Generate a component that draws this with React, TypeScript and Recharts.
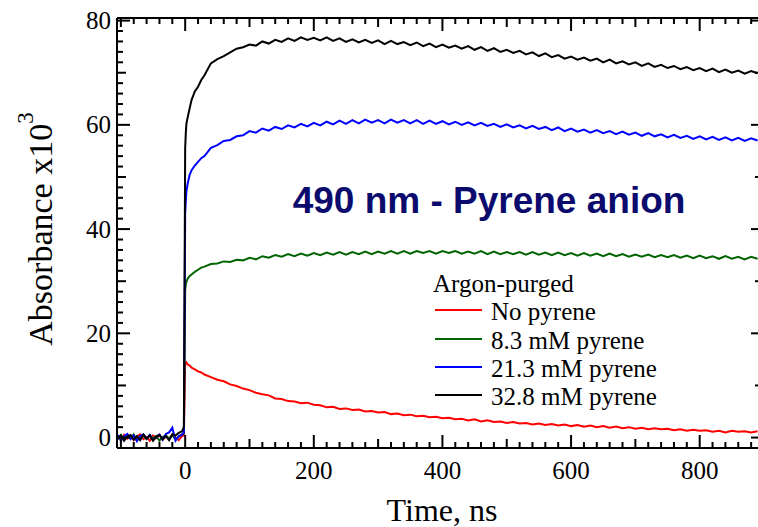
import React from 'react';
import { LineChart, Line, XAxis, YAxis, Legend } from 'recharts';

const TIME = [
  -105, -100, -95, -90, -85, -80, -75, -70, -65, -60, -55, -50, -45, -40, -35, -30, -25, -20, -15, -10, -5,
  -2, 0, 1, 2, 4, 7, 10, 15, 20, 25, 30, 40, 50, 60, 70, 80, 90,
  100, 110, 120, 130, 140, 150, 160, 170, 180, 190,
  200, 210, 220, 230, 240, 250, 260, 270, 280, 290,
  300, 310, 320, 330, 340, 350, 360, 370, 380, 390,
  400, 410, 420, 430, 440, 450, 460, 470, 480, 490,
  500, 510, 520, 530, 540, 550, 560, 570, 580, 590,
  600, 610, 620, 630, 640, 650, 660, 670, 680, 690,
  700, 710, 720, 730, 740, 750, 760, 770, 780, 790,
  800, 810, 820, 830, 840, 850, 860, 870, 880, 890,
];

const NO_PYRENE = [
  0.3, -0.4, 0.5, -0.2, 0.4, -0.5, 0.2, 0.6, -0.3, 0.1, -0.6, 0.4, -0.1, 0.5, -0.4, 0.2, -0.3, 0.6, 0.0, -0.5, 0.3,
  0.4, 14.6, 14.2, 14.4, 14.0, 13.8, 13.4, 13.1, 12.7, 12.5, 12.1, 11.6, 11.1, 10.8, 10.2, 9.9, 9.4,
  9.1, 8.6, 8.3, 8.1, 7.5, 7.4, 7.0, 6.9, 6.6, 6.7,
  6.3, 6.2, 5.8, 5.9, 5.5, 5.6, 5.3, 5.4, 5.0, 5.1,
  4.8, 4.9, 4.5, 4.6, 4.3, 4.4, 4.1, 4.2, 3.9, 4.0,
  3.7, 3.8, 3.5, 3.6, 3.3, 3.5, 3.1, 3.3, 3.0, 3.1,
  2.8, 3.0, 2.7, 2.8, 2.5, 2.7, 2.4, 2.6, 2.3, 2.5,
  2.2, 2.4, 2.1, 2.3, 2.0, 2.2, 1.9, 2.1, 1.8, 2.0,
  1.7, 1.9, 1.6, 1.8, 1.6, 1.7, 1.4, 1.6, 1.3, 1.5,
  1.3, 1.4, 1.1, 1.3, 1.0, 1.3, 1.1, 1.2, 1.0, 1.2,
];

const PYRENE_8_3 = [
  -0.2, 0.5, -0.4, 0.3, -0.1, 0.6, -0.5, 0.2, 0.4, -0.3, 0.5, -0.2, 0.3, -0.6, 0.1, 0.4, -0.2, 0.5, -0.4, 0.2, 0.6,
  0.8, 28.3, 29.4, 29.9, 30.5, 31.0, 31.3, 31.8, 32.2, 32.6, 32.8, 33.3, 33.4, 33.8, 33.7, 34.1, 34.0,
  34.5, 34.2, 34.8, 34.5, 35.0, 34.7, 35.2, 34.8, 35.3, 34.9,
  35.4, 35.0, 35.5, 35.1, 35.6, 35.1, 35.6, 35.2, 35.7, 35.2,
  35.7, 35.3, 35.8, 35.3, 35.8, 35.3, 35.8, 35.4, 35.8, 35.3,
  35.8, 35.4, 35.8, 35.3, 35.7, 35.3, 35.8, 35.2, 35.7, 35.2,
  35.6, 35.2, 35.6, 35.1, 35.6, 35.1, 35.5, 35.0, 35.5, 35.0,
  35.4, 34.9, 35.4, 34.9, 35.3, 34.8, 35.3, 34.8, 35.2, 34.7,
  35.1, 34.7, 35.1, 34.6, 35.0, 34.6, 35.0, 34.5, 34.9, 34.4,
  34.9, 34.4, 34.8, 34.3, 34.8, 34.3, 34.7, 34.2, 34.7, 34.3,
];

const PYRENE_21_3 = [
  0.5, -0.6, 0.2, 0.7, -0.3, 0.4, -0.7, 0.3, 0.6, -0.2, 0.5, -0.5, 0.1, 0.6, -0.4, 0.7, 1.0, 1.9, -0.6, 0.3, 0.5,
  1.0, 43.0, 45.5, 47.3, 48.8, 50.4, 51.3, 52.2, 52.9, 53.6, 54.0, 55.6, 56.1, 56.9, 57.1, 57.8, 58.0,
  58.8, 58.5, 59.3, 58.9, 59.6, 59.2, 59.9, 59.5, 60.2, 59.7,
  60.4, 59.9, 60.6, 60.1, 60.8, 60.2, 60.9, 60.3, 61.0, 60.4,
  60.9, 60.3, 61.0, 60.4, 60.9, 60.3, 60.9, 60.2, 60.8, 60.2,
  60.7, 60.1, 60.6, 60.0, 60.5, 59.9, 60.4, 59.8, 60.2, 59.6,
  60.1, 59.5, 59.9, 59.3, 59.8, 59.2, 59.6, 59.0, 59.5, 58.8,
  59.3, 58.7, 59.1, 58.5, 59.0, 58.4, 58.8, 58.2, 58.7, 58.1,
  58.5, 57.9, 58.4, 57.8, 58.2, 57.6, 58.1, 57.5, 57.9, 57.3,
  57.8, 57.2, 57.7, 57.1, 57.6, 57.0, 57.5, 56.9, 57.4, 57.0,
];

const PYRENE_32_8 = [
  -0.3, 0.4, -0.6, 0.2, 0.5, -0.4, 0.3, -0.5, 0.6, -0.2, 0.4, -0.6, 0.2, 0.5, -0.3, 0.3, -0.5, 0.6, 0.4, 0.9, 1.2,
  2.0, 55.5, 58.5, 60.3, 61.5, 63.2, 64.8, 66.4, 67.3, 68.6, 69.5, 71.8, 72.6, 73.2, 73.9, 74.6, 74.9,
  75.4, 75.2, 76.0, 75.6, 76.3, 75.9, 76.6, 76.1, 76.8, 76.3,
  76.7, 76.2, 76.8, 76.1, 76.6, 75.9, 76.4, 75.8, 76.3, 75.7,
  76.2, 75.5, 76.1, 75.5, 75.9, 75.3, 75.8, 75.1, 75.6, 74.9,
  75.4, 74.8, 75.2, 74.6, 75.1, 74.4, 74.9, 74.2, 74.7, 74.0,
  74.4, 73.8, 74.2, 73.5, 73.9, 73.2, 73.7, 73.0, 73.4, 72.7,
  73.1, 72.5, 72.9, 72.3, 72.7, 72.0, 72.5, 71.8, 72.2, 71.6,
  72.0, 71.3, 71.8, 71.1, 71.5, 70.9, 71.3, 70.7, 71.1, 70.5,
  70.9, 70.3, 70.8, 70.1, 70.6, 70.0, 70.4, 69.8, 70.3, 69.9,
];

const SERIES_NAMES = ['No pyrene', '8.3 mM pyrene', '21.3 mM pyrene', '32.8 mM pyrene'];
const SERIES_KEYS = ['p0', 'p8', 'p21', 'p32'];
const SERIES_COLORS = ['#ff0000', '#006400', '#0000ff', '#000000'];

const X_TICKS = [
  -100, -80, -60, -40, -20, 0, 20, 40, 60, 80, 100, 120, 140, 160, 180, 200, 220, 240, 260, 280,
  300, 320, 340, 360, 380, 400, 420, 440, 460, 480, 500, 520, 540, 560, 580, 600, 620, 640, 660, 680,
  700, 720, 740, 760, 780, 800, 820, 840, 860, 880,
];
const Y_TICKS = [
  0, 2, 4, 6, 8, 10, 12, 14, 16, 18, 20, 22, 24, 26, 28, 30, 32, 34, 36, 38, 40,
  42, 44, 46, 48, 50, 52, 54, 56, 58, 60, 62, 64, 66, 68, 70, 72, 74, 76, 78, 80,
];

const TITLE = '490 nm - Pyrene anion';
const LEGEND_TITLE = 'Argon-purged';
const X_LABEL = 'Time, ns';
const Y_LABEL = 'Absorbance x10';

const data = TIME.map((t, i) => ({
  t,
  p0: NO_PYRENE[i],
  p8: PYRENE_8_3[i],
  p21: PYRENE_21_3[i],
  p32: PYRENE_32_8[i],
}));

const SERIF = '"Liberation Serif", "Times New Roman", serif';

const XTick = (props: any) => {
  const { x, y, payload, side } = props;
  const v = payload.value;
  const len = v % 200 === 0 ? 13 : v % 100 === 0 ? 9 : 6;
  const dir = side === 'bottom' ? -1 : 1;
  return (
    <g>
      <line x1={x} x2={x} y1={y} y2={y + dir * len} stroke="#000" strokeWidth={2} />
      {side === 'bottom' && v % 200 === 0 && v >= 0 ? (
        <text x={x} y={y + 31} textAnchor="middle" fontFamily={SERIF} fontSize={25} fill="#000">
          {v}
        </text>
      ) : null}
    </g>
  );
};

const YTick = (props: any) => {
  const { x, y, payload, side } = props;
  const v = payload.value;
  const len = v % 20 === 0 ? 13 : v % 10 === 0 ? 9 : 6;
  const dir = side === 'left' ? 1 : -1;
  return (
    <g>
      <line x1={x} x2={x + dir * len} y1={y} y2={y} stroke="#000" strokeWidth={2} />
      {side === 'left' && v % 20 === 0 ? (
        <text x={x - 6} y={y + 8.5} textAnchor="end" fontFamily={SERIF} fontSize={25} fill="#000">
          {v}
        </text>
      ) : null}
    </g>
  );
};

const renderLegend = (props: any) => {
  const items = ([...(props.payload || [])] as any[]).sort(
    (a, b) => SERIES_NAMES.indexOf(String(a.value)) - SERIES_NAMES.indexOf(String(b.value)),
  );
  return (
    <div style={{ fontFamily: SERIF, fontSize: 25, lineHeight: '28.3px', color: '#000', whiteSpace: 'nowrap' }}>
      <div>{LEGEND_TITLE}</div>
      {items.map((it) => (
        <div key={String(it.value)} style={{ display: 'flex', alignItems: 'center', height: 28.3 }}>
          <span
            style={{
              display: 'inline-block',
              width: 47,
              height: 2,
              background: it.color,
              marginLeft: 2,
              marginRight: 9,
              position: 'relative',
              top: -2,
            }}
          />
          <span>{it.value}</span>
        </div>
      ))}
    </div>
  );
};

export default function App() {
  const axisLine = { stroke: '#000', strokeWidth: 2 };
  return (
    <div
      style={{
        position: 'absolute',
        left: 0,
        top: 0,
        width: 758,
        height: 527,
        overflow: 'hidden',
        background: '#fff',
      }}
    >
      <LineChart width={766} height={527} data={data} margin={{ top: 17, right: 1, bottom: 78, left: 116 }}>
        <XAxis
          dataKey="t"
          type="number"
          domain={[-106, 900]}
          allowDataOverflow
          ticks={X_TICKS}
          interval={0}
          height={1}
          tickSize={0}
          tickMargin={0}
          axisLine={axisLine}
          tickLine={false}
          tick={(p: any) => <XTick {...p} side="bottom" />}
        />
        <XAxis
          xAxisId="top"
          orientation="top"
          dataKey="t"
          type="number"
          domain={[-106, 900]}
          allowDataOverflow
          ticks={X_TICKS}
          interval={0}
          height={1}
          tickSize={0}
          tickMargin={0}
          axisLine={axisLine}
          tickLine={false}
          tick={(p: any) => <XTick {...p} side="top" />}
        />
        <YAxis
          type="number"
          domain={[-2, 80.5]}
          allowDataOverflow
          ticks={Y_TICKS}
          interval={0}
          width={1}
          tickSize={0}
          tickMargin={0}
          axisLine={axisLine}
          tickLine={false}
          tick={(p: any) => <YTick {...p} side="left" />}
        />
        <YAxis
          yAxisId="right"
          orientation="right"
          type="number"
          domain={[-2, 80.5]}
          allowDataOverflow
          ticks={Y_TICKS}
          interval={0}
          width={1}
          tickSize={0}
          tickMargin={0}
          axisLine={axisLine}
          tickLine={false}
          tick={(p: any) => <YTick {...p} side="right" />}
        />
        {SERIES_KEYS.map((k, i) => (
          <Line
            key={k}
            dataKey={k}
            name={SERIES_NAMES[i]}
            stroke={SERIES_COLORS[i]}
            strokeWidth={2}
            dot={false}
            type="linear"
            isAnimationActive={false}
          />
        ))}
        <Legend
          layout="vertical"
          align="center"
          verticalAlign="middle"
          content={renderLegend}
          wrapperStyle={{ position: 'absolute', left: 433, top: 270, width: 'auto', height: 'auto' }}
        />
        <text
          x={489}
          y={213}
          textAnchor="middle"
          fontFamily='"Liberation Sans", Arial, sans-serif'
          fontWeight="bold"
          fontSize={37}
          fill="#0b0b6e"
        >
          {TITLE}
        </text>
        <text x={442} y={521} textAnchor="middle" fontFamily={SERIF} fontSize={32} fill="#000">
          {X_LABEL}
        </text>
        <text
          transform="rotate(-90)"
          x={-229}
          y={52}
          textAnchor="middle"
          fontFamily={SERIF}
          fontSize={34}
          fill="#000"
        >
          {Y_LABEL}
          <tspan fontSize={23} dy={-19}>
            3
          </tspan>
        </text>
      </LineChart>
    </div>
  );
}
